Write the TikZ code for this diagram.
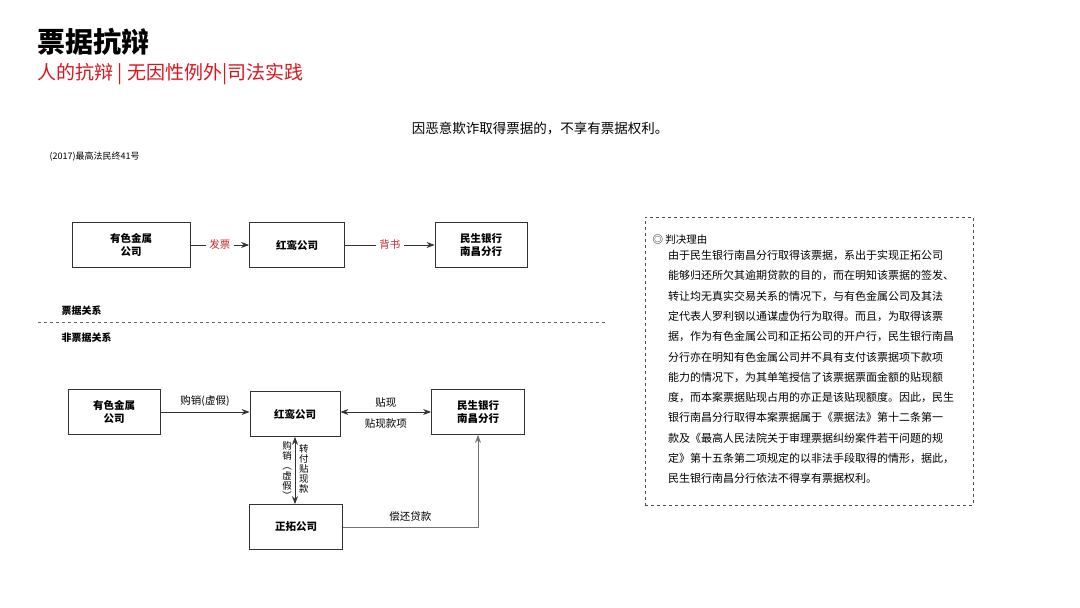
\documentclass[tikz,border=0pt]{standalone}
\usepackage{fontspec}
\setmainfont{Noto Sans CJK SC}
\usetikzlibrary{arrows.meta, positioning}
\definecolor{titlered}{RGB}{220,20,30}
\definecolor{labelred}{RGB}{200,40,40}

\begin{document}
\begin{tikzpicture}[
    x=1pt, y=-1pt,
    party/.style={draw=black!80, thick, minimum width=92pt, minimum height=45pt, align=center, font=\fontsize{10.5}{13}\selectfont\bfseries},
    flow/.style={-{Stealth[length=8pt, width=6pt]}, thick, black!80},
    twoway/.style={{Stealth[length=8pt, width=6pt]}-{Stealth[length=8pt, width=6pt]}, thick, black!80},
    flowlabel/.style={font=\fontsize{10.5}{12.5}\selectfont, text=black},
    vlabel/.style={font=\fontsize{9.5}{10}\selectfont, align=center, inner sep=1pt},
    reason/.style={font=\fontsize{11}{20.3}\selectfont, align=left, anchor=north west, inner sep=0pt}
]
\useasboundingbox (0,0) rectangle (1080,608);

% Header
\node[anchor=west, font=\fontsize{28}{30}\selectfont\bfseries] (title) at (34,42) {票据抗辩};
\node[anchor=west, font=\fontsize{19}{21}\selectfont, text=titlered] (subtitle) at (34,74) {人的抗辩 | 无因性例外|司法实践};
\node[font=\fontsize{13.5}{15}\selectfont] (thesis) at (540,128) {因恶意欺诈取得票据的，不享有票据权利。};
\node[anchor=west, font=\fontsize{9}{10}\selectfont] (caseno) at (46,157) {(2017)最高法民终41号};

% Bill relation
\node[party, minimum width=118pt] (metal) at (131,245) {有色金属\\公司};
\node[party, minimum width=95pt] (hongluan) at (297,245) {红鸾公司};
\node[party] (bank) at (481,245) {民生银行\\南昌分行};
\draw[flow] (metal) -- node[flowlabel, text=labelred, fill=white] {发票} (hongluan);
\draw[flow] (hongluan) -- node[flowlabel, text=labelred, fill=white] {背书} (bank);

\node[anchor=west, font=\fontsize{10}{11}\selectfont\bfseries] (billrel) at (58,311) {票据关系};
\draw[dashed, black!60] (38,322) -- (605,322);
\node[anchor=west, font=\fontsize{10}{11}\selectfont\bfseries] (nonbill) at (58,338) {非票据关系};

% Non-bill relation
\node[party] (metal2) at (114,412) {有色金属\\公司};
\node[party, minimum width=90pt] (hongluan2) at (295,414) {红鸾公司};
\node[party, minimum width=93pt] (bank2) at (478,412) {民生银行\\南昌分行};
\node[party, minimum width=93pt] (zhengtuo) at (296,527) {正拓公司};
\draw[flow] (metal2.east) -- node[flowlabel, above=2pt] {购销(虚假)} (metal2.east -| hongluan2.west);
\draw[twoway] (hongluan2.east |- bank2) -- node[flowlabel, above=1pt] {贴现} node[flowlabel, below=3pt] {贴现款项} (bank2.west);
\draw[twoway] (hongluan2.south) -- (hongluan2.south |- zhengtuo.north);
\node[vlabel, anchor=north east] (buylabel) at (293,440) {购\\销\\︵\\虚\\假\\︶};
\node[vlabel, anchor=north west] (paylabel) at (298,443) {转\\付\\贴\\现\\款};
\draw[flow, black!55] (zhengtuo.east) -| node[flowlabel, above=2pt, pos=0.25] {偿还贷款} (bank2.south);

% Reasoning box
\node[draw=black!70, dashed, minimum width=328pt, minimum height=288pt, anchor=north west] (panel) at (645,217) {};
\node[anchor=west, font=\fontsize{10.5}{12}\selectfont] (reasonhead) at (649,240) {◎ 判决理由};
\node[reason] (reasontext) at (668,250) {由于民生银行南昌分行取得该票据，系出于实现正拓公司\\能够归还所欠其逾期贷款的目的，而在明知该票据的签发、\\转让均无真实交易关系的情况下，与有色金属公司及其法\\定代表人罗利钢以通谋虚伪行为取得。而且，为取得该票\\据，作为有色金属公司和正拓公司的开户行，民生银行南昌\\分行亦在明知有色金属公司并不具有支付该票据项下款项\\能力的情况下，为其单笔授信了该票据票面金额的贴现额\\度，而本案票据贴现占用的亦正是该贴现额度。因此，民生\\银行南昌分行取得本案票据属于《票据法》第十二条第一\\款及《最高人民法院关于审理票据纠纷案件若干问题的规\\定》第十五条第二项规定的以非法手段取得的情形，据此，\\民生银行南昌分行依法不得享有票据权利。};
\end{tikzpicture}
\end{document}
